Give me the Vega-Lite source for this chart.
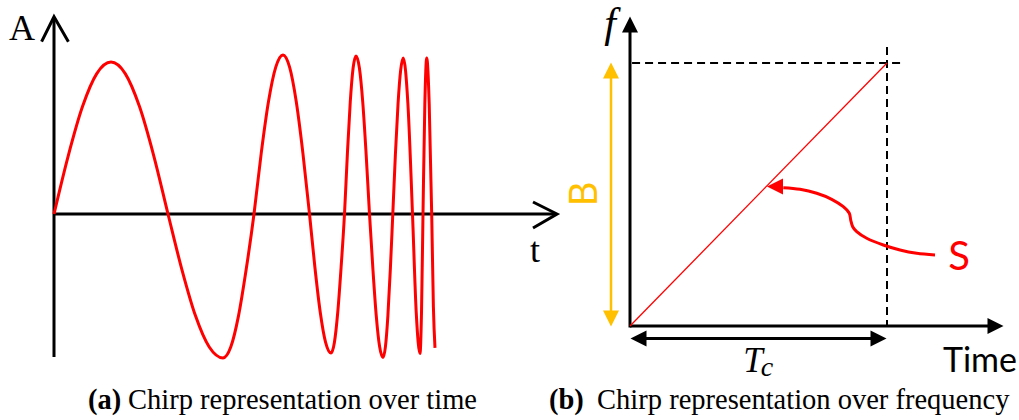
{
  "$schema": "https://vega.github.io/schema/vega-lite/v6.json",
  "padding": 0,
  "spacing": 0,
  "bounds": "flush",
  "background": "white",
  "config": {"view": {"stroke": null}},
  "resolve": {"scale": {"x": "independent", "y": "independent", "color": "independent", "shape": "independent"}},
  "hconcat": [
    {
      "width": 560,
      "height": 420,
      "layer": [
        {
          "data": {"values": [
            {"t": 0, "A": -0.953, "t2": 0, "A2": 1.31},
            {"t": 0, "A": 0, "t2": 12.55, "A2": 0}
          ]},
          "mark": {"type": "rule", "color": "black", "strokeWidth": 3},
          "encoding": {
            "x": {"field": "t", "type": "quantitative", "scale": {"domain": [-1.35, 12.65], "nice": false, "zero": false}, "axis": null},
            "y": {"field": "A", "type": "quantitative", "scale": {"domain": [-1.3733, 1.4267], "nice": false, "zero": false}, "axis": null},
            "x2": {"field": "t2"},
            "y2": {"field": "A2"}
          }
        },
        {
          "data": {"values": [
            {"g": "y", "t": -0.31, "A": 1.149, "o": 0},
            {"g": "y", "t": 0, "A": 1.315, "o": 1},
            {"g": "y", "t": 0.36, "A": 1.149, "o": 2},
            {"g": "x", "t": 11.975, "A": 0.08, "o": 0},
            {"g": "x", "t": 12.575, "A": 0, "o": 1},
            {"g": "x", "t": 11.975, "A": -0.093, "o": 2}
          ]},
          "mark": {"type": "line", "color": "black", "strokeWidth": 3, "strokeJoin": "miter"},
          "encoding": {
            "x": {"field": "t", "type": "quantitative", "scale": {"domain": [-1.35, 12.65], "nice": false, "zero": false}, "axis": null},
            "y": {"field": "A", "type": "quantitative", "scale": {"domain": [-1.3733, 1.4267], "nice": false, "zero": false}, "axis": null},
            "detail": {"field": "g"},
            "order": {"field": "o"}
          }
        },
        {
          "data": {"values": [
            {"t": 0, "A": 0}, {"t": 0.356, "A": 0.388}, {"t": 0.7125, "A": 0.716}, {"t": 1.069, "A": 0.936},
            {"t": 1.425, "A": 1.013}, {"t": 1.781, "A": 0.936}, {"t": 2.1375, "A": 0.716}, {"t": 2.494, "A": 0.388},
            {"t": 2.85, "A": 0}, {"t": 3.194, "A": -0.367}, {"t": 3.5375, "A": -0.679}, {"t": 3.881, "A": -0.887},
            {"t": 4.225, "A": -0.96}, {"t": 4.419, "A": -0.887}, {"t": 4.6125, "A": -0.679}, {"t": 4.806, "A": -0.367},
            {"t": 5.0, "A": 0}, {"t": 5.181, "A": 0.406}, {"t": 5.3625, "A": 0.75}, {"t": 5.544, "A": 0.979},
            {"t": 5.725, "A": 1.06}, {"t": 5.89, "A": 0.979}, {"t": 6.056, "A": 0.75}, {"t": 6.2225, "A": 0.406},
            {"t": 6.3875, "A": 0}, {"t": 6.5225, "A": -0.355}, {"t": 6.656, "A": -0.655}, {"t": 6.79, "A": -0.856},
            {"t": 6.925, "A": -0.927}, {"t": 7.01, "A": -0.856}, {"t": 7.094, "A": -0.655}, {"t": 7.1775, "A": -0.355},
            {"t": 7.2625, "A": 0}, {"t": 7.335, "A": 0.403}, {"t": 7.406, "A": 0.745}, {"t": 7.4775, "A": 0.973},
            {"t": 7.55, "A": 1.053}, {"t": 7.635, "A": 0.973}, {"t": 7.719, "A": 0.745}, {"t": 7.8025, "A": 0.403},
            {"t": 7.8875, "A": 0}, {"t": 7.9725, "A": -0.366}, {"t": 8.056, "A": -0.677}, {"t": 8.14, "A": -0.884},
            {"t": 8.225, "A": -0.957}, {"t": 8.286, "A": -0.884}, {"t": 8.3475, "A": -0.677}, {"t": 8.409, "A": -0.366},
            {"t": 8.47, "A": 0}, {"t": 8.535, "A": 0.398}, {"t": 8.601, "A": 0.735}, {"t": 8.6675, "A": 0.961},
            {"t": 8.7325, "A": 1.04}, {"t": 8.8475, "A": 0.735}, {"t": 8.9625, "A": 0}, {"t": 9.056, "A": -0.658},
            {"t": 9.15, "A": -0.93}, {"t": 9.1875, "A": -0.658}, {"t": 9.225, "A": 0}, {"t": 9.271, "A": 0.735},
            {"t": 9.3175, "A": 1.04}, {"t": 9.38, "A": 0.735}, {"t": 9.4425, "A": 0}, {"t": 9.485, "A": -0.62},
            {"t": 9.525, "A": -0.893}
          ]},
          "mark": {"type": "line", "color": "#ff0000", "strokeWidth": 3, "interpolate": "monotone"},
          "encoding": {
            "x": {"field": "t", "type": "quantitative", "scale": {"domain": [-1.35, 12.65], "nice": false, "zero": false}, "axis": null},
            "y": {"field": "A", "type": "quantitative", "scale": {"domain": [-1.3733, 1.4267], "nice": false, "zero": false}, "axis": null}
          }
        },
        {
          "data": {"values": [
            {"t": -0.8, "A": 1.16, "label": "A"},
            {"t": 12.025, "A": -0.32, "label": "t"}
          ]},
          "mark": {"type": "text", "font": "Liberation Serif", "fontSize": 36, "align": "center", "baseline": "alphabetic", "color": "black"},
          "encoding": {
            "x": {"field": "t", "type": "quantitative", "scale": {"domain": [-1.35, 12.65], "nice": false, "zero": false}, "axis": null},
            "y": {"field": "A", "type": "quantitative", "scale": {"domain": [-1.3733, 1.4267], "nice": false, "zero": false}, "axis": null},
            "text": {"field": "label"}
          }
        },
        {
          "data": {"values": [{"t": 0.85, "A": -1.3, "label": "(a)"}]},
          "mark": {"type": "text", "font": "Liberation Serif", "fontSize": 28.5, "fontWeight": "bold", "align": "left", "baseline": "alphabetic", "color": "black"},
          "encoding": {
            "x": {"field": "t", "type": "quantitative", "scale": {"domain": [-1.35, 12.65], "nice": false, "zero": false}, "axis": null},
            "y": {"field": "A", "type": "quantitative", "scale": {"domain": [-1.3733, 1.4267], "nice": false, "zero": false}, "axis": null},
            "text": {"field": "label"}
          }
        },
        {
          "data": {"values": [{"t": 1.85, "A": -1.3, "label": "Chirp representation over time"}]},
          "mark": {"type": "text", "font": "Liberation Serif", "fontSize": 28.5, "align": "left", "baseline": "alphabetic", "color": "black"},
          "encoding": {
            "x": {"field": "t", "type": "quantitative", "scale": {"domain": [-1.35, 12.65], "nice": false, "zero": false}, "axis": null},
            "y": {"field": "A", "type": "quantitative", "scale": {"domain": [-1.3733, 1.4267], "nice": false, "zero": false}, "axis": null},
            "text": {"field": "label"}
          }
        }
      ]
    },
    {
      "width": 459,
      "height": 420,
      "layer": [
        {
          "data": {"values": [
            {"u": 0, "v": -0.0057, "u2": 0, "v2": 1.125},
            {"u": 0, "v": 0, "u2": 1.395, "v2": 0},
            {"u": 0.05, "v": -0.0475, "u2": 0.95, "v2": -0.0475}
          ]},
          "mark": {"type": "rule", "color": "black", "strokeWidth": 3},
          "encoding": {
            "x": {"field": "u", "type": "quantitative", "scale": {"domain": [-0.2724, 1.5136], "nice": false, "zero": false}, "axis": null},
            "y": {"field": "v", "type": "quantitative", "scale": {"domain": [-0.3574, 1.2395], "nice": false, "zero": false}, "axis": null},
            "x2": {"field": "u2"},
            "y2": {"field": "v2"}
          }
        },
        {
          "data": {"values": [
            {"u": 0.008, "v": 1, "u2": 1.07, "v2": 1},
            {"u": 1, "v": 1.061, "u2": 1, "v2": 0}
          ]},
          "mark": {"type": "rule", "color": "black", "strokeWidth": 2, "strokeDash": [8, 5]},
          "encoding": {
            "x": {"field": "u", "type": "quantitative", "scale": {"domain": [-0.2724, 1.5136], "nice": false, "zero": false}, "axis": null},
            "y": {"field": "v", "type": "quantitative", "scale": {"domain": [-0.3574, 1.2395], "nice": false, "zero": false}, "axis": null},
            "x2": {"field": "u2"},
            "y2": {"field": "v2"}
          }
        },
        {
          "data": {"values": [{"u": -0.0739, "v": 0.045, "u2": -0.0739, "v2": 0.955}]},
          "mark": {"type": "rule", "color": "#FFC000", "strokeWidth": 2.5},
          "encoding": {
            "x": {"field": "u", "type": "quantitative", "scale": {"domain": [-0.2724, 1.5136], "nice": false, "zero": false}, "axis": null},
            "y": {"field": "v", "type": "quantitative", "scale": {"domain": [-0.3574, 1.2395], "nice": false, "zero": false}, "axis": null},
            "x2": {"field": "u2"},
            "y2": {"field": "v2"}
          }
        },
        {
          "data": {"values": [{"u": 0, "v": 0, "u2": 1, "v2": 1}]},
          "mark": {"type": "rule", "color": "#ff0000", "strokeWidth": 1.3},
          "encoding": {
            "x": {"field": "u", "type": "quantitative", "scale": {"domain": [-0.2724, 1.5136], "nice": false, "zero": false}, "axis": null},
            "y": {"field": "v", "type": "quantitative", "scale": {"domain": [-0.3574, 1.2395], "nice": false, "zero": false}, "axis": null},
            "x2": {"field": "u2"},
            "y2": {"field": "v2"}
          }
        },
        {
          "data": {"values": [
            {"o": 0, "u": 0.5965, "v": 0.5259}, {"o": 1, "u": 0.6615, "v": 0.5198}, {"o": 2, "u": 0.7265, "v": 0.5046},
            {"o": 3, "u": 0.7848, "v": 0.4817}, {"o": 4, "u": 0.83, "v": 0.4536}, {"o": 5, "u": 0.8533, "v": 0.4285},
            {"o": 6, "u": 0.8588, "v": 0.403}, {"o": 7, "u": 0.8665, "v": 0.3776}, {"o": 8, "u": 0.8821, "v": 0.3586},
            {"o": 9, "u": 0.921, "v": 0.3335}, {"o": 10, "u": 0.9856, "v": 0.308}, {"o": 11, "u": 1.0506, "v": 0.289},
            {"o": 12, "u": 1.1156, "v": 0.2764}, {"o": 13, "u": 1.1868, "v": 0.27}
          ]},
          "mark": {"type": "line", "color": "#ff0000", "strokeWidth": 3, "interpolate": "catmull-rom"},
          "encoding": {
            "x": {"field": "u", "type": "quantitative", "scale": {"domain": [-0.2724, 1.5136], "nice": false, "zero": false}, "axis": null},
            "y": {"field": "v", "type": "quantitative", "scale": {"domain": [-0.3574, 1.2395], "nice": false, "zero": false}, "axis": null},
            "order": {"field": "o"}
          }
        },
        {
          "data": {"values": [
            {"u": 0, "v": 1.1464, "dir": "up", "part": "axis"},
            {"u": 1.4222, "v": 0, "dir": "right", "part": "axis"},
            {"u": -0.0739, "v": 0.9715, "dir": "up", "part": "band"},
            {"u": -0.0739, "v": 0.0285, "dir": "down", "part": "band"},
            {"u": 0.0331, "v": -0.0475, "dir": "left", "part": "axis"},
            {"u": 0.9669, "v": -0.0475, "dir": "right", "part": "axis"},
            {"u": 0.5642, "v": 0.5304, "dir": "left", "part": "signal"}
          ]},
          "mark": {"type": "point", "filled": true, "size": 256, "opacity": 1, "strokeWidth": 0},
          "encoding": {
            "x": {"field": "u", "type": "quantitative", "scale": {"domain": [-0.2724, 1.5136], "nice": false, "zero": false}, "axis": null},
            "y": {"field": "v", "type": "quantitative", "scale": {"domain": [-0.3574, 1.2395], "nice": false, "zero": false}, "axis": null},
            "shape": {"field": "dir", "type": "nominal", "legend": null, "scale": {"domain": ["up", "down", "left", "right"], "range": ["M-1,1L0,-1L1,1Z", "M-1,-1L0,1L1,-1Z", "M1,-1L-1,0L1,1Z", "M-1,-1L1,0L-1,1Z"]}},
            "color": {"field": "part", "type": "nominal", "legend": null, "scale": {"domain": ["axis", "band", "signal"], "range": ["black", "#FFC000", "#ff0000"]}}
          }
        },
        {
          "data": {"values": [{"u": -0.0778, "v": 1.0989, "label": "f"}]},
          "mark": {"type": "text", "font": "Liberation Serif", "fontStyle": "italic", "fontSize": 42, "align": "center", "baseline": "alphabetic", "color": "black"},
          "encoding": {
            "x": {"field": "u", "type": "quantitative", "scale": {"domain": [-0.2724, 1.5136], "nice": false, "zero": false}, "axis": null},
            "y": {"field": "v", "type": "quantitative", "scale": {"domain": [-0.3574, 1.2395], "nice": false, "zero": false}, "axis": null},
            "text": {"field": "label"}
          }
        },
        {
          "data": {"values": [{"u": 0.4786, "v": -0.1749, "label": "T"}]},
          "mark": {"type": "text", "font": "Liberation Serif", "fontStyle": "italic", "fontSize": 35, "align": "center", "baseline": "alphabetic", "color": "black"},
          "encoding": {
            "x": {"field": "u", "type": "quantitative", "scale": {"domain": [-0.2724, 1.5136], "nice": false, "zero": false}, "axis": null},
            "y": {"field": "v", "type": "quantitative", "scale": {"domain": [-0.3574, 1.2395], "nice": false, "zero": false}, "axis": null},
            "text": {"field": "label"}
          }
        },
        {
          "data": {"values": [{"u": 0.5331, "v": -0.1901, "label": "c"}]},
          "mark": {"type": "text", "font": "Liberation Serif", "fontStyle": "italic", "fontSize": 28, "align": "center", "baseline": "alphabetic", "color": "black"},
          "encoding": {
            "x": {"field": "u", "type": "quantitative", "scale": {"domain": [-0.2724, 1.5136], "nice": false, "zero": false}, "axis": null},
            "y": {"field": "v", "type": "quantitative", "scale": {"domain": [-0.3574, 1.2395], "nice": false, "zero": false}, "axis": null},
            "text": {"field": "label"}
          }
        },
        {
          "data": {"values": [{"u": 1.3619, "v": -0.1749, "label": "Time"}]},
          "mark": {"type": "text", "font": "Lato", "fontSize": 34, "align": "center", "baseline": "alphabetic", "color": "black"},
          "encoding": {
            "x": {"field": "u", "type": "quantitative", "scale": {"domain": [-0.2724, 1.5136], "nice": false, "zero": false}, "axis": null},
            "y": {"field": "v", "type": "quantitative", "scale": {"domain": [-0.3574, 1.2395], "nice": false, "zero": false}, "axis": null},
            "text": {"field": "label"}
          }
        },
        {
          "data": {"values": [{"u": 1.2802, "v": 0.2129, "label": "S"}]},
          "mark": {"type": "text", "font": "Lato", "fontSize": 40, "align": "center", "baseline": "alphabetic", "color": "#ff0000"},
          "encoding": {
            "x": {"field": "u", "type": "quantitative", "scale": {"domain": [-0.2724, 1.5136], "nice": false, "zero": false}, "axis": null},
            "y": {"field": "v", "type": "quantitative", "scale": {"domain": [-0.3574, 1.2395], "nice": false, "zero": false}, "axis": null},
            "text": {"field": "label"}
          }
        },
        {
          "data": {"values": [{"u": -0.1712, "v": 0.5019, "label": "B"}]},
          "mark": {"type": "text", "font": "Lato", "fontSize": 38, "align": "center", "baseline": "middle", "angle": 270, "color": "#FFC000"},
          "encoding": {
            "x": {"field": "u", "type": "quantitative", "scale": {"domain": [-0.2724, 1.5136], "nice": false, "zero": false}, "axis": null},
            "y": {"field": "v", "type": "quantitative", "scale": {"domain": [-0.3574, 1.2395], "nice": false, "zero": false}, "axis": null},
            "text": {"field": "label"}
          }
        },
        {
          "data": {"values": [{"u": -0.3152, "v": -0.3156, "label": "(b)"}]},
          "mark": {"type": "text", "font": "Liberation Serif", "fontSize": 28.5, "fontWeight": "bold", "align": "left", "baseline": "alphabetic", "color": "black"},
          "encoding": {
            "x": {"field": "u", "type": "quantitative", "scale": {"domain": [-0.2724, 1.5136], "nice": false, "zero": false}, "axis": null},
            "y": {"field": "v", "type": "quantitative", "scale": {"domain": [-0.3574, 1.2395], "nice": false, "zero": false}, "axis": null},
            "text": {"field": "label"}
          }
        },
        {
          "data": {"values": [{"u": -0.128, "v": -0.3156, "label": "Chirp representation over frequency"}]},
          "mark": {"type": "text", "font": "Liberation Serif", "fontSize": 28.5, "align": "left", "baseline": "alphabetic", "color": "black"},
          "encoding": {
            "x": {"field": "u", "type": "quantitative", "scale": {"domain": [-0.2724, 1.5136], "nice": false, "zero": false}, "axis": null},
            "y": {"field": "v", "type": "quantitative", "scale": {"domain": [-0.3574, 1.2395], "nice": false, "zero": false}, "axis": null},
            "text": {"field": "label"}
          }
        }
      ]
    }
  ]
}
